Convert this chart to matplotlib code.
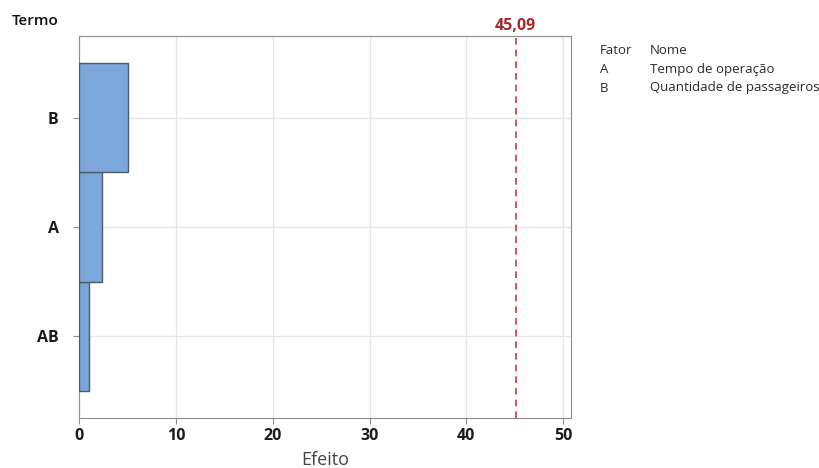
import matplotlib
matplotlib.use("Agg")
import matplotlib.pyplot as plt

# Pareto chart of standardized effects
terms = ["AB", "A", "B"]
effects = [1.02, 2.29, 4.98]
critical = 45.09
x_ticks = [0, 10, 20, 30, 40, 50]
factor_codes = ["A", "B"]
factor_names = ["Tempo de operação", "Quantidade de passageiros"]

plt.rcParams['font.family'] = ['Open Sans', 'DejaVu Sans']

fig = plt.figure(figsize=(8.19, 4.68), dpi=100)
ax = fig.add_axes([0.097, 0.107, 0.600, 0.816])

ypos = list(range(len(terms)))
ax.barh(ypos, effects, height=1.0, color="#7BA7DA", edgecolor="#4D5A68",
        linewidth=1.0, zorder=3)
ax.axvline(critical, color="#D03A3A", linestyle=(0, (4, 3)), linewidth=1.2, zorder=4)
ax.text(critical, 2.765, f"{critical:.2f}".replace(".", ","), color="#A52A2A",
        fontsize=11.5, fontweight="bold", ha="center", va="bottom")

ax.set_xlim(0, 50.8)
ax.set_ylim(-0.75, 2.75)
ax.tick_params(axis="both", colors="#8C8C8C", labelcolor="#1A1A1A", length=4)
ax.tick_params(axis="y", pad=11)
tick_font = dict(fontsize=11.5, fontweight="bold")
ax.set_xticks(x_ticks, labels=[str(t) for t in x_ticks], **tick_font)
ax.set_yticks(ypos, labels=terms, **tick_font)
ax.grid(True, color="#E6E6E6", linewidth=1.0, zorder=0)
ax.set_axisbelow(True)
for s in ax.spines.values():
    s.set_color("#8C8C8C")
ax.set_xlabel("Efeito", fontsize=13, color="#444444", labelpad=5)

fig.text(12 / 819, 1 - 21 / 468, "Termo", fontsize=11, fontweight="semibold",
         color="#111111", ha="left", va="center")

# factor key
fx1, fx2 = 600 / 819, 650 / 819
rows = [("Fator", "Nome")] + list(zip(factor_codes, factor_names))
for i, (code, name) in enumerate(rows):
    yy = 1 - (51 + i * 18.5) / 468
    fig.text(fx1, yy, code, fontsize=9.5, color="#2A2A2A", ha="left", va="center")
    fig.text(fx2, yy, name, fontsize=9.5, color="#2A2A2A", ha="left", va="center")

fig.savefig("out.png", dpi=100)
